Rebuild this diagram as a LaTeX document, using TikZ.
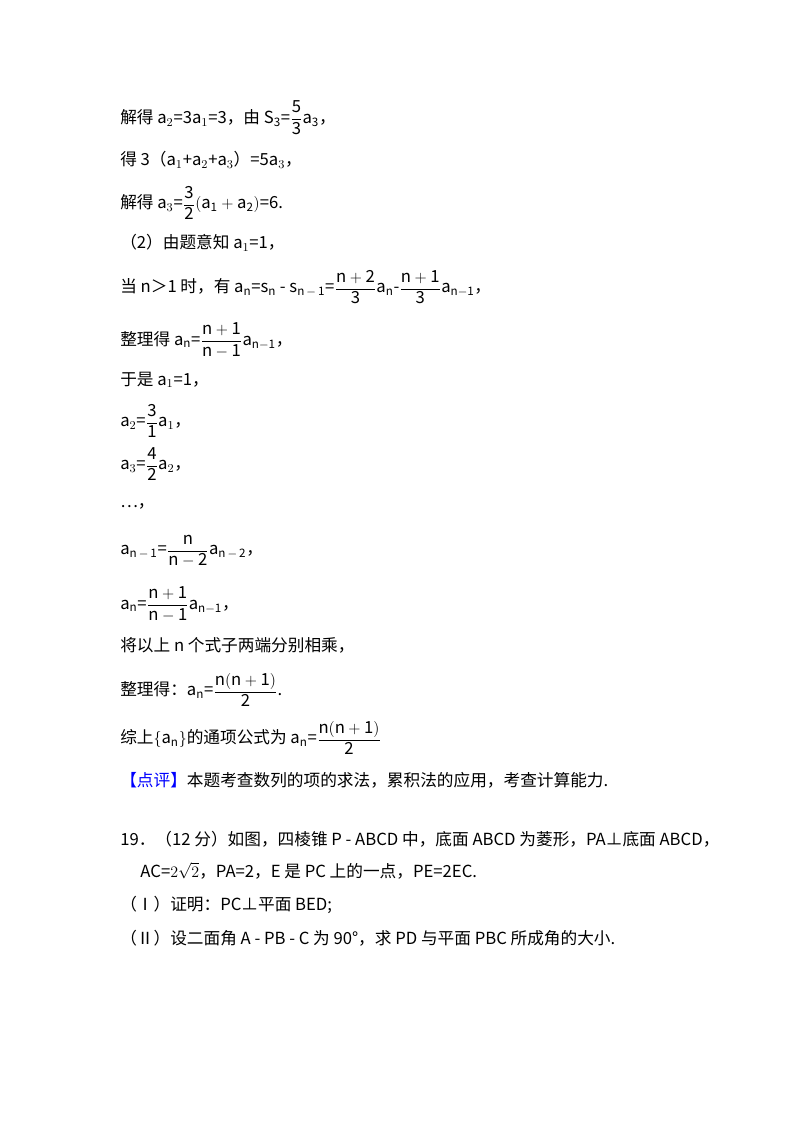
\documentclass[tikz,border=0pt]{standalone}
\usepackage{fontspec}
\setmainfont{Noto Sans CJK SC}
\newcommand{\fr}[2]{\dfrac{\mathrm{#1}}{\mathrm{#2}}}
\usepackage{amsmath}
\begin{document}
\begin{tikzpicture}[x=0.75pt,y=-0.75pt,every node/.style={anchor=west,inner sep=0pt,font=\fontsize{12.5}{14}\selectfont}]
\useasboundingbox (0,0) rectangle (800,1132);
\node (l1) at (120,118) {解得 a$_2$=3a$_1$=3，由 $\mathrm{S_3}$=$\fr{5}{3}\mathrm{a_3}$，};
\node (l2) at (120,160) {得 3（a$_1$+a$_2$+a$_3$）=5a$_3$，};
\node (l3) at (120,203) {解得 a$_3$=$\fr{3}{2}(\mathrm{a_1+a_2})$=6.};
\node (l4) at (120,243) {（2）由题意知 a$_1$=1，};
\node (l5) at (120,287) {当 n＞1 时，有 a$_\mathrm{n}$=s$_\mathrm{n}$ - s$_\mathrm{n\,-\,1}$=$\fr{n+2}{3}\mathrm{a_n}$-$\fr{n+1}{3}\mathrm{a_{n-1}}$，};
\node (l6) at (120,340) {整理得 $\mathrm{a_n}$=$\fr{n+1}{n-1}\mathrm{a_{n-1}}$，};
\node (l7) at (120,380) {于是 a$_1$=1，};
\node (l8) at (120,421) {a$_2$=$\fr{3}{1}$a$_1$，};
\node (l9) at (120,464) {a$_3$=$\fr{4}{2}$a$_2$，};
\node (l10) at (120,506) {…，};
\node (l11) at (120,551) {a$_\mathrm{n\,-\,1}$=$\fr{n}{n-2}$a$_\mathrm{n\,-\,2}$，};
\node (l12) at (120,604) {$\mathrm{a_n}$=$\fr{n+1}{n-1}\mathrm{a_{n-1}}$，};
\node (l13) at (120,645) {将以上 n 个式子两端分别相乘，};
\node (l14) at (120,690) {整理得：$\mathrm{a_n}$=$\fr{n(n+1)}{2}$.};
\node (l15) at (120,738) {综上$\{\mathrm{a_n}\}$的通项公式为 $\mathrm{a_n}$=$\fr{n(n+1)}{2}$};
\node (l16) at (120,780) {\textcolor{blue}{【点评】}本题考查数列的项的求法，累积法的应用，考查计算能力.};
\node (l17) at (120,839) {19．（12 分）如图，四棱锥 P - ABCD 中，底面 ABCD 为菱形，PA⊥底面 ABCD，};
\node (l18) at (140,871) {$\mathrm{AC}$=$2\sqrt{2}$，PA=2，E 是 PC 上的一点，PE=2EC.};
\node (l19) at (120,905) {（Ⅰ）证明：PC⊥平面 BED;};
\node (l20) at (120,938) {（Ⅱ）设二面角 A - PB - C 为 90°，求 PD 与平面 PBC 所成角的大小.};
\end{tikzpicture}
\end{document}
